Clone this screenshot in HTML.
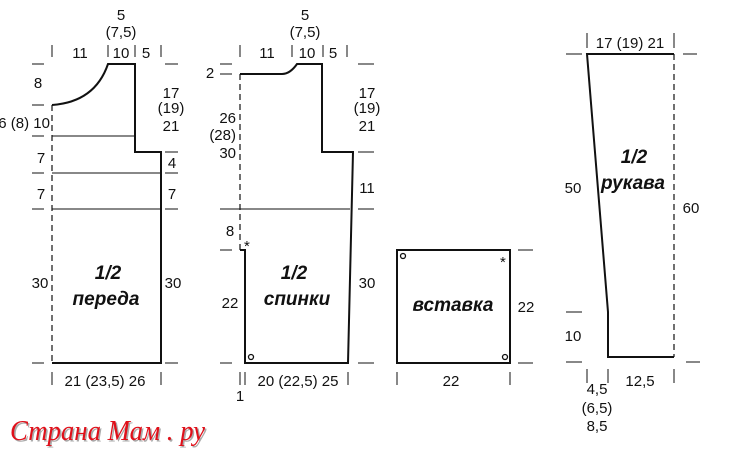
<!DOCTYPE html>
<html><head><meta charset="utf-8"><style>
html,body{margin:0;padding:0;background:#fff}
svg{display:block}
.n{font-family:"Liberation Sans",sans-serif;font-size:15px;fill:#111}
.b{font-family:"Liberation Sans",sans-serif;font-size:19px;font-weight:bold;font-style:italic;fill:#111}
</style></head><body>
<svg width="750" height="450" viewBox="0 0 750 450" xmlns="http://www.w3.org/2000/svg">
<g stroke="#111" fill="none">
<path d="M52 105 Q95 102 108 64 H135 V152 H161 V363 H52" stroke-width="2"/>
<line x1="52" y1="105" x2="52" y2="363" stroke-width="1.2" stroke-dasharray="6,4"/>
<g stroke-width="1">
<line x1="52" y1="136" x2="135" y2="136"/><line x1="52" y1="173" x2="161" y2="173"/><line x1="52" y1="209" x2="161" y2="209"/>
<path d="M32 64H44M32 105H44M32 136H44M32 173H44M32 209H44M32 363H44M165 64H178M165 152H178M165 173H178M165 209H178M165 363H178M52 45V57M108 45V57M135 45V57M161 45V57M52 372V385M161 372V385"/>
</g>
<path d="M240 74 H282 Q290 74 297 64 H322 V152 H353 L348 363 H245 V250 H240" stroke-width="2"/>
<line x1="240" y1="74" x2="240" y2="250" stroke-width="1.2" stroke-dasharray="6,4"/>
<g stroke-width="1">
<line x1="220" y1="209" x2="350" y2="209"/>
<path d="M220 64H232M220 74H232M220 250H232M220 363H232M358 64H374M358 152H374M358 209H374M358 363H374M240 45V57M292 45V57M323 45V57M347 45V57M240 372V385M245 372V385M348 372V385"/>
</g>
<circle cx="251" cy="357" r="2.5" stroke-width="1.3"/>
<rect x="397" y="250" width="113" height="113" stroke-width="2"/>
<circle cx="403" cy="256" r="2.5" stroke-width="1.3"/>
<circle cx="505" cy="357" r="2.5" stroke-width="1.3"/>
<path d="M518 250H533M518 363H533M397 372V385M510 372V385" stroke-width="1"/>
<path d="M674 54 H587 L608 312 V357 H674" stroke-width="2"/>
<line x1="674" y1="54" x2="674" y2="357" stroke-width="1.2" stroke-dasharray="6,4"/>
<path d="M587 33V48M674 33V48M566 54H582M683 54H697M566 312H582M566 362H582M686 362H700M587 369V383M608 369V383M674 369V383" stroke-width="1"/>
</g>
<g class="n" text-anchor="middle">
<text x="121" y="20">5</text><text x="121" y="37">(7,5)</text>
<text x="80" y="58">11</text><text x="121" y="58">10</text><text x="146" y="58">5</text>
<text x="38" y="88">8</text><text x="41" y="163">7</text><text x="41" y="199">7</text><text x="40" y="288">30</text>
<text x="171" y="98">17</text><text x="171" y="113">(19)</text><text x="171" y="131">21</text>
<text x="172" y="168">4</text><text x="172" y="199">7</text><text x="173" y="288">30</text>
<text x="105" y="386">21 (23,5) 26</text>
<text x="305" y="20">5</text><text x="305" y="37">(7,5)</text>
<text x="267" y="58">11</text><text x="307" y="58">10</text><text x="333" y="58">5</text>
<text x="210" y="78">2</text>
<text x="367" y="98">17</text><text x="367" y="113">(19)</text><text x="367" y="131">21</text>
<text x="367" y="193">11</text><text x="367" y="288">30</text>
<text x="230" y="236">8</text><text x="230" y="308">22</text>
<text x="298" y="386">20 (22,5) 25</text><text x="240" y="401">1</text>
<text x="526" y="312">22</text><text x="451" y="386">22</text>
<text x="630" y="48">17 (19) 21</text>
<text x="573" y="193">50</text><text x="691" y="213">60</text><text x="573" y="341">10</text>
<text x="640" y="386">12,5</text>
<text x="597" y="394">4,5</text><text x="597" y="413">(6,5)</text><text x="597" y="431">8,5</text>
</g>
<g class="n" text-anchor="end">
<text x="50" y="128">6 (8) 10</text>
<text x="236" y="123">26</text><text x="236" y="140">(28)</text><text x="236" y="158">30</text>
</g>
<g class="n" font-size="13"><text x="244" y="251">*</text><text x="500" y="267">*</text></g>
<g class="b" text-anchor="middle">
<text x="108" y="279">1/2</text><text x="106" y="305">переда</text>
<text x="294" y="279">1/2</text><text x="297" y="305">спинки</text>
<text x="453" y="311">вставка</text>
<text x="634" y="163">1/2</text><text x="633" y="189">рукава</text>
</g>
<text x="10" y="440" textLength="195" lengthAdjust="spacingAndGlyphs" font-family="Liberation Serif,serif" font-style="italic" font-size="29" fill="#aaa" transform="translate(1.5,1.5)">Страна Мам . ру</text>
<text x="10" y="440" textLength="195" lengthAdjust="spacingAndGlyphs" font-family="Liberation Serif,serif" font-style="italic" font-size="29" fill="#e0101a">Страна Мам . ру</text>
</svg>
</body></html>
